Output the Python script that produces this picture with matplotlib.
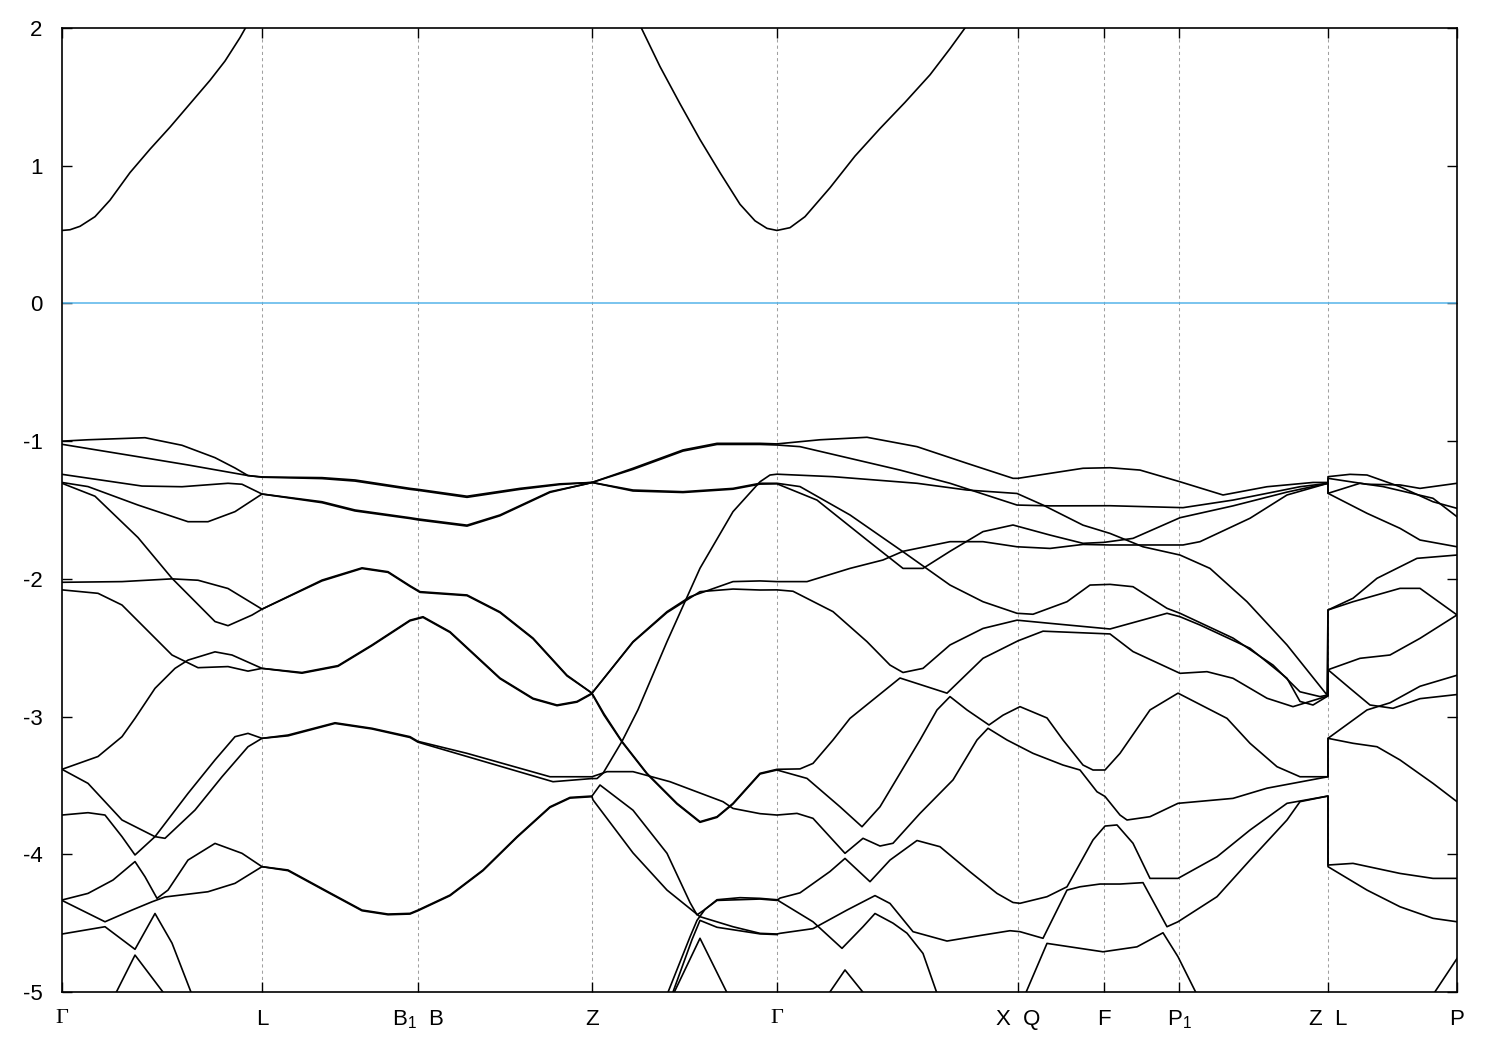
import numpy as np
import matplotlib
matplotlib.use("Agg")
from matplotlib import pyplot as plt

# high-symmetry points along the path
kpath = [0.00, 2.00, 3.56, 5.30, 7.15, 9.56, 10.42, 11.17, 12.66, 13.95]
klabels = ["Γ", "L", "B$_1$  B", "Z", "Γ", "X  Q", "F", "P$_1$", "Z  L", "P"]

# conduction bands (k, E)
cb1 = [(0.00, 0.53), (0.08, 0.535), (0.18, 0.56), (0.33, 0.63), (0.48, 0.75),
       (0.68, 0.95), (0.88, 1.12), (1.08, 1.28), (1.28, 1.45), (1.48, 1.62),
       (1.63, 1.76), (1.78, 1.93), (1.85, 2.02)]
cb2 = [(5.78, 2.02), (5.98, 1.72), (6.18, 1.45), (6.38, 1.19), (6.58, 0.95),
       (6.78, 0.72), (6.93, 0.60), (7.05, 0.545), (7.15, 0.53), (7.28, 0.55),
       (7.43, 0.63), (7.68, 0.84), (7.93, 1.07), (8.18, 1.27), (8.43, 1.46),
       (8.68, 1.66), (8.88, 1.85), (9.05, 2.02)]

# valence bands (k, E)
vb01 = [(0.00, -1.00), (0.26, -0.99), (0.83, -0.975), (1.20, -1.03), (1.53, -1.12),
        (1.73, -1.195), (1.86, -1.25), (2.00, -1.26), (2.60, -1.265), (2.93, -1.282),
        (3.48, -1.343), (3.56, -1.35), (4.05, -1.40), (4.58, -1.343), (4.98, -1.31),
        (5.30, -1.30), (5.71, -1.197), (6.21, -1.064), (6.55, -1.016), (6.98, -1.016),
        (7.15, -1.02), (7.58, -0.99), (8.05, -0.972), (8.55, -1.04), (9.05, -1.161),
        (9.51, -1.27), (9.56, -1.27), (9.88, -1.234), (10.21, -1.197), (10.48, -1.193),
        (10.78, -1.21), (11.18, -1.295), (11.61, -1.391), (12.05, -1.331), (12.51, -1.30),
        (12.66, -1.30), (12.66, -1.258), (12.88, -1.241), (13.05, -1.246), (13.38, -1.331),
        (13.71, -1.44), (13.95, -1.488)]
vb02 = [(0.00, -1.023), (0.76, -1.113), (1.26, -1.173), (1.86, -1.25), (2.00, -1.262),
        (2.60, -1.272), (2.93, -1.29), (3.48, -1.35), (3.56, -1.357), (4.05, -1.408),
        (4.58, -1.35), (4.98, -1.315), (5.30, -1.30), (5.71, -1.205), (6.21, -1.072),
        (6.55, -1.024), (6.98, -1.024), (7.15, -1.028), (7.38, -1.04), (7.88, -1.125),
        (8.38, -1.21), (8.88, -1.306), (9.55, -1.464), (9.88, -1.47), (10.48, -1.469),
        (11.21, -1.483), (11.71, -1.428), (12.05, -1.379), (12.38, -1.331), (12.66, -1.306),
        (12.66, -1.27), (13.05, -1.313), (13.38, -1.318), (13.58, -1.343), (13.95, -1.306)]
vb03 = [(0.00, -1.241), (0.80, -1.326), (1.20, -1.331), (1.66, -1.306), (1.80, -1.313),
        (2.00, -1.384), (2.60, -1.44), (2.93, -1.50), (3.48, -1.556), (3.56, -1.565),
        (4.05, -1.61), (4.38, -1.536), (4.88, -1.367), (5.25, -1.31), (5.30, -1.30),
        (5.71, -1.355), (6.21, -1.367), (6.71, -1.343), (6.98, -1.306), (7.15, -1.306),
        (7.38, -1.33), (7.88, -1.536), (8.40, -1.798), (8.88, -2.045), (9.21, -2.166),
        (9.55, -2.25), (9.71, -2.257), (10.05, -2.166), (10.28, -2.045), (10.48, -2.04),
        (10.71, -2.057), (11.05, -2.214), (11.18, -2.25), (11.71, -2.43), (12.11, -2.626),
        (12.38, -2.82), (12.58, -2.855), (12.66, -2.843), (12.66, -2.226), (12.91, -2.141),
        (13.15, -1.996), (13.55, -1.851), (13.95, -1.827)]
vb04 = [(0.00, -1.30), (0.26, -1.33), (0.76, -1.464), (1.26, -1.585), (1.46, -1.585),
        (1.73, -1.512), (2.00, -1.384), (2.60, -1.447), (2.93, -1.507), (3.48, -1.562),
        (3.56, -1.572), (4.05, -1.617), (4.38, -1.542), (4.88, -1.372), (5.30, -1.30),
        (5.71, -1.362), (6.21, -1.373), (6.71, -1.349), (6.98, -1.312), (7.15, -1.31),
        (7.55, -1.428), (8.05, -1.718), (8.41, -1.924), (8.61, -1.924), (8.88, -1.80),
        (9.21, -1.657), (9.51, -1.609), (9.88, -1.682), (10.21, -1.742), (10.42, -1.735),
        (10.71, -1.706), (11.18, -1.556), (11.71, -1.47), (12.25, -1.37), (12.66, -1.306),
        (12.66, -1.379), (12.98, -1.306), (13.21, -1.33), (13.71, -1.415), (13.95, -1.549)]
vb05 = [(0.00, -2.025), (0.60, -2.02), (1.10, -2.00), (1.36, -2.01), (1.66, -2.07),
        (2.00, -2.22), (2.60, -2.009), (3.00, -1.92), (3.26, -1.948), (3.48, -2.05),
        (3.58, -2.093), (4.05, -2.117), (4.38, -2.24), (4.71, -2.43), (5.05, -2.70),
        (5.30, -2.83), (5.71, -2.456), (6.05, -2.238), (6.28, -2.13), (6.71, -2.02),
        (6.98, -2.015), (7.15, -2.02), (7.45, -2.02), (7.88, -1.924), (8.21, -1.863),
        (8.41, -1.80), (8.88, -1.73), (9.21, -1.73), (9.55, -1.767), (9.88, -1.779),
        (10.21, -1.75), (10.48, -1.754), (11.21, -1.754), (11.38, -1.73), (11.88, -1.56),
        (12.25, -1.391), (12.66, -1.306), (12.66, -1.379), (13.05, -1.524), (13.38, -1.633),
        (13.58, -1.718), (13.95, -1.767)]
vb06 = [(0.00, -2.08), (0.36, -2.105), (0.60, -2.19), (1.10, -2.553), (1.36, -2.645),
        (1.66, -2.637), (1.86, -2.67), (2.00, -2.65), (2.40, -2.68), (2.76, -2.63),
        (3.10, -2.48), (3.48, -2.30), (3.61, -2.275), (3.88, -2.384), (4.38, -2.72),
        (4.71, -2.867), (4.95, -2.916), (5.15, -2.89), (5.30, -2.83), (5.71, -2.46),
        (6.05, -2.245), (6.38, -2.093), (6.71, -2.074), (6.98, -2.081), (7.15, -2.08),
        (7.31, -2.09), (7.71, -2.238), (8.05, -2.456), (8.28, -2.626), (8.41, -2.68),
        (8.61, -2.65), (8.88, -2.48), (9.21, -2.36), (9.55, -2.30), (9.88, -2.323),
        (10.48, -2.364), (11.05, -2.25), (11.18, -2.275), (11.38, -2.335), (11.88, -2.504),
        (12.25, -2.722), (12.38, -2.89), (12.51, -2.916), (12.66, -2.85), (12.66, -2.66),
        (12.98, -2.577), (13.28, -2.553), (13.58, -2.432), (13.95, -2.262)]
vb07 = [(0.00, -1.306), (0.33, -1.40), (0.76, -1.70), (1.10, -1.996), (1.53, -2.31),
        (1.66, -2.34), (1.90, -2.263), (2.00, -2.22), (2.60, -2.015), (3.00, -1.925),
        (3.26, -1.953), (3.48, -2.055), (3.58, -2.098), (4.05, -2.122), (4.38, -2.245),
        (4.71, -2.435), (5.05, -2.705), (5.30, -2.83), (5.42, -2.98), (5.60, -3.18),
        (5.85, -3.412), (6.15, -3.63), (6.38, -3.763), (6.55, -3.727), (6.71, -3.63),
        (6.98, -3.412), (7.15, -3.383), (7.38, -3.38), (7.51, -3.34), (7.71, -3.17),
        (7.88, -3.013), (8.38, -2.72), (8.85, -2.83), (9.21, -2.577), (9.56, -2.45),
        (9.81, -2.38), (10.48, -2.40), (10.71, -2.528), (11.18, -2.686), (11.45, -2.674),
        (11.71, -2.722), (12.05, -2.867), (12.31, -2.928), (12.66, -2.85), (12.66, -2.66),
        (12.88, -2.795), (13.08, -2.916), (13.31, -2.94), (13.58, -2.87), (13.95, -2.84)]
vb08 = [(0.00, -3.383), (0.36, -3.29), (0.60, -3.146), (0.73, -3.013), (0.93, -2.795),
        (1.13, -2.65), (1.26, -2.59), (1.53, -2.53), (1.70, -2.553), (2.00, -2.65),
        (2.40, -2.685), (2.76, -2.635), (3.10, -2.485), (3.48, -2.305), (3.61, -2.28),
        (3.88, -2.389), (4.38, -2.725), (4.71, -2.872), (4.95, -2.921), (5.15, -2.895),
        (5.30, -2.835), (5.42, -2.99), (5.60, -3.185), (5.85, -3.417), (6.15, -3.635),
        (6.38, -3.768), (6.55, -3.732), (6.71, -3.635), (6.98, -3.417), (7.15, -3.388),
        (7.45, -3.449), (7.78, -3.655), (8.00, -3.80), (8.18, -3.655), (8.58, -3.17),
        (8.75, -2.952), (8.88, -2.855), (9.05, -2.952), (9.27, -3.061), (9.41, -2.99),
        (9.58, -2.928), (9.85, -3.01), (10.01, -3.17), (10.21, -3.352), (10.31, -3.388),
        (10.43, -3.388), (10.58, -3.267), (10.88, -2.952), (11.16, -2.83), (11.65, -3.013),
        (11.88, -3.194), (12.15, -3.364), (12.38, -3.437), (12.66, -3.437), (12.66, -3.158),
        (13.05, -2.952), (13.28, -2.90), (13.58, -2.78), (13.95, -2.70)]
vb09 = [(0.00, -3.383), (0.26, -3.485), (0.60, -3.751), (0.93, -3.872), (1.03, -3.884),
        (1.33, -3.679), (1.60, -3.437), (1.86, -3.219), (2.00, -3.158), (2.26, -3.134),
        (2.73, -3.045), (3.10, -3.085), (3.48, -3.146), (3.56, -3.18), (4.05, -3.267),
        (4.88, -3.437), (5.30, -3.437), (5.45, -3.40), (5.71, -3.40), (6.08, -3.473),
        (6.61, -3.618), (6.71, -3.667), (6.98, -3.705), (7.15, -3.715), (7.35, -3.703),
        (7.51, -3.739), (7.83, -3.993), (8.01, -3.884), (8.18, -3.94), (8.31, -3.92),
        (8.58, -3.703), (8.91, -3.46), (9.15, -3.17), (9.26, -3.085), (9.45, -3.17),
        (9.71, -3.267), (10.01, -3.352), (10.18, -3.388), (10.35, -3.546), (10.43, -3.58),
        (10.58, -3.715), (10.65, -3.751), (10.88, -3.727), (11.16, -3.63), (11.71, -3.594),
        (12.05, -3.52), (12.66, -3.437), (12.66, -3.158), (12.91, -3.194), (13.15, -3.219),
        (13.38, -3.315), (13.71, -3.485), (13.95, -3.618)]
vb10 = [(0.00, -3.715), (0.26, -3.698), (0.43, -3.715), (0.60, -3.872), (0.73, -4.005),
        (0.93, -3.872), (1.26, -3.558), (1.53, -3.315), (1.73, -3.146), (1.86, -3.122),
        (2.00, -3.158), (2.26, -3.14), (2.73, -3.05), (3.10, -3.09), (3.48, -3.152),
        (3.56, -3.186), (4.05, -3.29), (4.91, -3.473), (5.30, -3.45), (5.35, -3.45),
        (5.41, -3.412), (5.60, -3.18), (5.76, -2.95), (6.05, -2.456), (6.38, -1.923),
        (6.71, -1.512), (6.98, -1.295), (7.08, -1.246), (7.15, -1.24), (7.71, -1.258),
        (8.55, -1.306), (9.05, -1.355), (9.55, -1.38), (9.81, -1.464), (10.21, -1.61),
        (10.48, -1.67), (10.81, -1.767), (11.18, -1.827), (11.48, -1.924), (11.85, -2.166),
        (12.25, -2.48), (12.65, -2.843), (12.66, -2.226), (12.91, -2.166), (13.38, -2.069),
        (13.58, -2.069), (13.95, -2.262)]
vb11 = [(0.00, -4.332), (0.26, -4.284), (0.51, -4.187), (0.73, -4.053), (0.83, -4.163),
        (0.95, -4.32), (1.06, -4.26), (1.26, -4.042), (1.53, -3.921), (1.80, -3.993),
        (2.00, -4.09), (2.26, -4.114), (2.66, -4.272), (3.00, -4.405), (3.26, -4.434),
        (3.48, -4.429), (3.56, -4.405), (3.88, -4.296), (4.21, -4.114), (4.55, -3.872),
        (4.88, -3.655), (5.08, -3.587), (5.30, -3.577), (5.38, -3.497), (5.71, -3.68),
        (6.05, -3.993), (6.28, -4.35), (6.35, -4.44), (6.43, -4.40), (6.55, -4.33),
        (6.78, -4.315), (6.98, -4.32), (7.15, -4.33), (7.18, -4.344), (7.51, -4.49),
        (7.80, -4.683), (8.01, -4.526), (8.13, -4.43), (8.31, -4.50), (8.45, -4.573),
        (8.61, -4.72), (8.75, -5.01)]
vb12 = [(0.00, -4.335), (0.43, -4.49), (0.70, -4.405), (0.90, -4.345), (1.03, -4.31),
        (1.46, -4.272), (1.73, -4.211), (2.00, -4.09), (2.26, -4.119), (2.66, -4.277),
        (3.00, -4.41), (3.26, -4.439), (3.48, -4.434), (3.56, -4.41), (3.88, -4.301),
        (4.21, -4.119), (4.55, -3.877), (4.88, -3.66), (5.08, -3.592), (5.30, -3.582),
        (5.31, -3.605), (5.71, -3.99), (6.05, -4.26), (6.38, -4.453), (6.71, -4.526),
        (6.98, -4.574), (7.15, -4.579), (7.18, -4.574), (7.51, -4.54), (7.85, -4.405),
        (8.13, -4.30), (8.28, -4.357), (8.51, -4.562), (8.85, -4.63), (9.18, -4.59),
        (9.48, -4.555), (9.58, -4.562), (9.81, -4.61), (10.05, -4.26), (10.18, -4.236),
        (10.38, -4.216), (10.58, -4.216), (10.81, -4.206), (11.05, -4.526), (11.16, -4.49),
        (11.55, -4.308), (11.88, -4.042), (12.25, -3.751), (12.38, -3.618), (12.66, -3.577),
        (12.66, -4.078), (12.91, -4.066), (13.38, -4.139), (13.71, -4.175), (13.95, -4.175)]
vb13 = [(6.05, -5.02), (6.28, -4.60), (6.35, -4.48), (6.43, -4.40), (6.55, -4.335),
        (6.98, -4.325), (7.15, -4.335), (7.18, -4.318), (7.38, -4.28), (7.68, -4.125),
        (7.83, -4.03), (8.08, -4.199), (8.28, -4.042), (8.55, -3.90), (8.78, -3.945),
        (9.08, -4.127), (9.35, -4.284), (9.51, -4.35), (9.58, -4.356), (9.85, -4.308),
        (10.05, -4.236), (10.31, -3.896), (10.43, -3.795), (10.55, -3.787), (10.71, -3.92),
        (10.88, -4.175), (11.16, -4.175), (11.55, -4.018), (11.88, -3.824), (12.25, -3.63),
        (12.66, -3.577), (12.66, -4.09), (13.05, -4.26), (13.38, -4.381), (13.71, -4.465),
        (13.95, -4.49)]
vb14 = [(6.10, -5.02), (6.30, -4.62), (6.38, -4.48), (6.55, -4.53), (6.98, -4.578),
        (7.15, -4.583)]
vb15 = [(6.11, -5.02), (6.38, -4.61), (6.66, -5.02)]
vb16 = [(0.00, -4.579), (0.43, -4.526), (0.73, -4.69), (0.93, -4.43), (1.10, -4.645),
        (1.30, -5.02)]
vb17 = [(0.53, -5.02), (0.73, -4.732), (1.03, -5.02)]
vb18 = [(7.66, -5.02), (7.83, -4.84), (8.03, -5.02)]
vb19 = [(9.63, -5.02), (9.85, -4.647), (10.18, -4.683), (10.41, -4.708), (10.75, -4.672),
        (11.01, -4.57), (11.16, -4.744), (11.35, -5.02)]
vb20 = [(13.71, -5.02), (13.95, -4.757)]

bands = [cb1, cb2, vb01, vb02, vb03, vb04, vb05, vb06, vb07, vb08, vb09, vb10,
         vb11, vb12, vb13, vb14, vb15, vb16, vb17, vb18, vb19, vb20]

plt.rcParams['font.family'] = ['Liberation Sans', 'DejaVu Sans']
plt.rcParams['mathtext.fontset'] = 'custom'
plt.rcParams['mathtext.rm'] = 'Liberation Sans'
plt.rcParams['mathtext.it'] = 'Liberation Sans'
plt.rcParams['axes.unicode_minus'] = False

fig = plt.figure(figsize=(15, 10.5), dpi=100)
ax = fig.add_axes([62 / 1500, 58 / 1050, 1395 / 1500, 964 / 1050])

for k in kpath[1:-1]:
    ax.axvline(k, color='#a0a0a0', lw=0.75, ls=(0, (3, 3)), zorder=1)

ax.axhline(0, color='#56b4e9', lw=1.1, zorder=2)

for b in bands:
    b = np.array(b)
    ax.plot(b[:, 0], b[:, 1], color='black', lw=1.2, zorder=3, solid_joinstyle='round')

ax.set_xlim(kpath[0], kpath[-1])
ax.set_ylim(-5, 2)
ax.set_yticks(range(-5, 3))
ax.set_xticks(kpath)
ax.set_xticklabels(klabels)
for lbl in ax.get_xticklabels():
    if lbl.get_text() == "Γ":
        lbl.set_fontfamily('Liberation Serif')
        lbl.set_fontsize(18)

ax.tick_params(axis='both', direction='in', length=7, width=1.0, labelsize=16,
               top=True, right=True)
ax.tick_params(axis='x', pad=12)
ax.tick_params(axis='y', pad=14)
for s in ax.spines.values():
    s.set_linewidth(1.2)

fig.savefig('out.png', dpi=100)
